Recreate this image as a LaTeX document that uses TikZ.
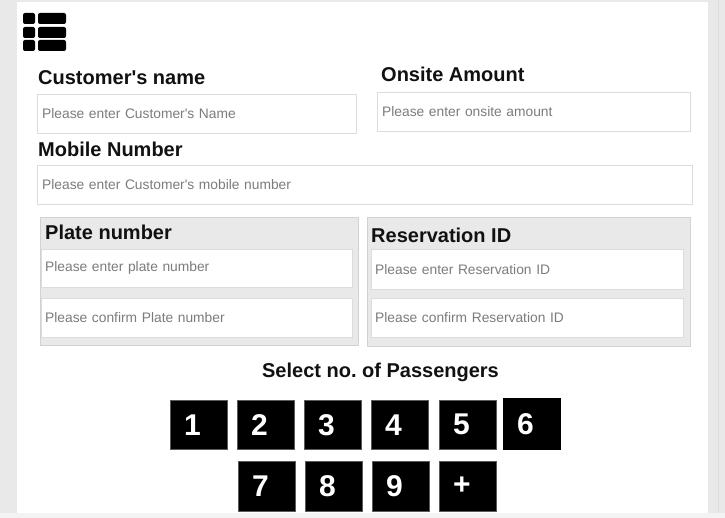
\documentclass[tikz,border=0pt]{standalone}
\usepackage{fontspec}
\setmainfont{Liberation Sans}
\definecolor{outergray}{HTML}{E9E9E9}
\definecolor{bottomgray}{HTML}{F3F3F3}
\definecolor{headtext}{HTML}{111111}
\definecolor{placetext}{HTML}{7C7C7C}
\definecolor{fieldline}{HTML}{DCDCDC}
\definecolor{panelgray}{HTML}{E9E9E9}
\definecolor{panelline}{HTML}{D2D2D2}
\definecolor{btnline}{HTML}{5A5A5A}
\frenchspacing
\begin{document}
\begin{tikzpicture}[
    x=1pt, y=-1pt,
    every node/.style={inner sep=0pt},
    heading/.style={anchor=base west, text=headtext,
    font=\bfseries\fontsize{20}{24}\selectfont},
    field/.style={draw=fieldline, fill=white, anchor=north west,
    inner xsep=5pt, align=left, text=placetext,
    font=\fontsize{13.8}{16}\selectfont},
    panel/.style={draw=panelline, fill=panelgray, anchor=north west},
    btn/.style={draw=btnline, fill=black, anchor=north west,
    minimum height=49pt, text width=29pt, inner xsep=14pt, align=left,
    text=white, font=\bfseries\fontsize{30}{30}\selectfont}]
    \def\bar#1{\fill[rounded corners=2pt] (23,#1) rectangle (35,#1+11);
        \fill[rounded corners=2pt] (38,#1) rectangle (66,#1+11)}
    \def\q{\textquotesingle}

    \useasboundingbox (0,0) rectangle (725,518);
    \fill[outergray] (0,0) rectangle (725,518);
    \fill[white] (17,2) rectangle (708,513);
    \fill[bottomgray] (0,513) rectangle (725,518);
    \draw[fieldline] (718,0) -- (718,513);

    \bar{13};
    \bar{27};
    \bar{40};

    \node[heading] (hdname) at (38,85) {Customer\q s name};
    \node[field, text width=309pt, minimum height=39pt] (name) at (37,94)
        {Please enter Customer\q s Name};
    \node[heading] (hdonsite) at (381,82) {Onsite Amount};
    \node[field, text width=303pt, minimum height=39pt] (onsite) at (377,92)
        {Please enter onsite amount};
    \node[heading] (hdmobile) at (38,157) {Mobile Number};
    \node[field, text width=645pt, minimum height=39pt] (mobile) at (37,165)
        {Please enter Customer\q s mobile number};

    \node[panel, minimum width=318pt, minimum height=128pt] (pnlplate) at (40,217) {};
    \node[heading] (hdplate) at (45,240) {Plate number};
    \node[field, inner xsep=4pt, text width=303pt, minimum height=38pt] (plate)
        at (41,249) {Please enter plate number};
    \node[field, inner xsep=4pt, text width=303pt, minimum height=39pt] (plateconf)
        at (41,298) {Please confirm Plate number};

    \node[panel, minimum width=323pt, minimum height=129pt] (pnlres) at (367,217) {};
    \node[heading] (hdres) at (371,243) {Reservation ID};
    \node[field, inner xsep=4pt, text width=304pt, minimum height=40pt] (res)
        at (371,249) {Please enter Reservation ID};
    \node[field, inner xsep=4pt, text width=304pt, minimum height=39pt] (resconf)
        at (371,298) {Please confirm Reservation ID};

    \node[heading, anchor=base] (hdpass) at (380.5,377) {Select no. of Passengers};

    \foreach \d/\x in {1/170,2/237,3/304,4/371,5/439}
        \node[btn] (b\d) at (\x,400) {\d};
    \node[btn, draw=black, minimum height=51pt] (b6) at (503,398) {6};
    \foreach \d/\x/\nm in {7/238/b7,8/305/b8,9/372/b9,+/439/bplus}
        \node[btn, minimum height=50pt] (\nm) at (\x,461) {\d};
\end{tikzpicture}
\end{document}
